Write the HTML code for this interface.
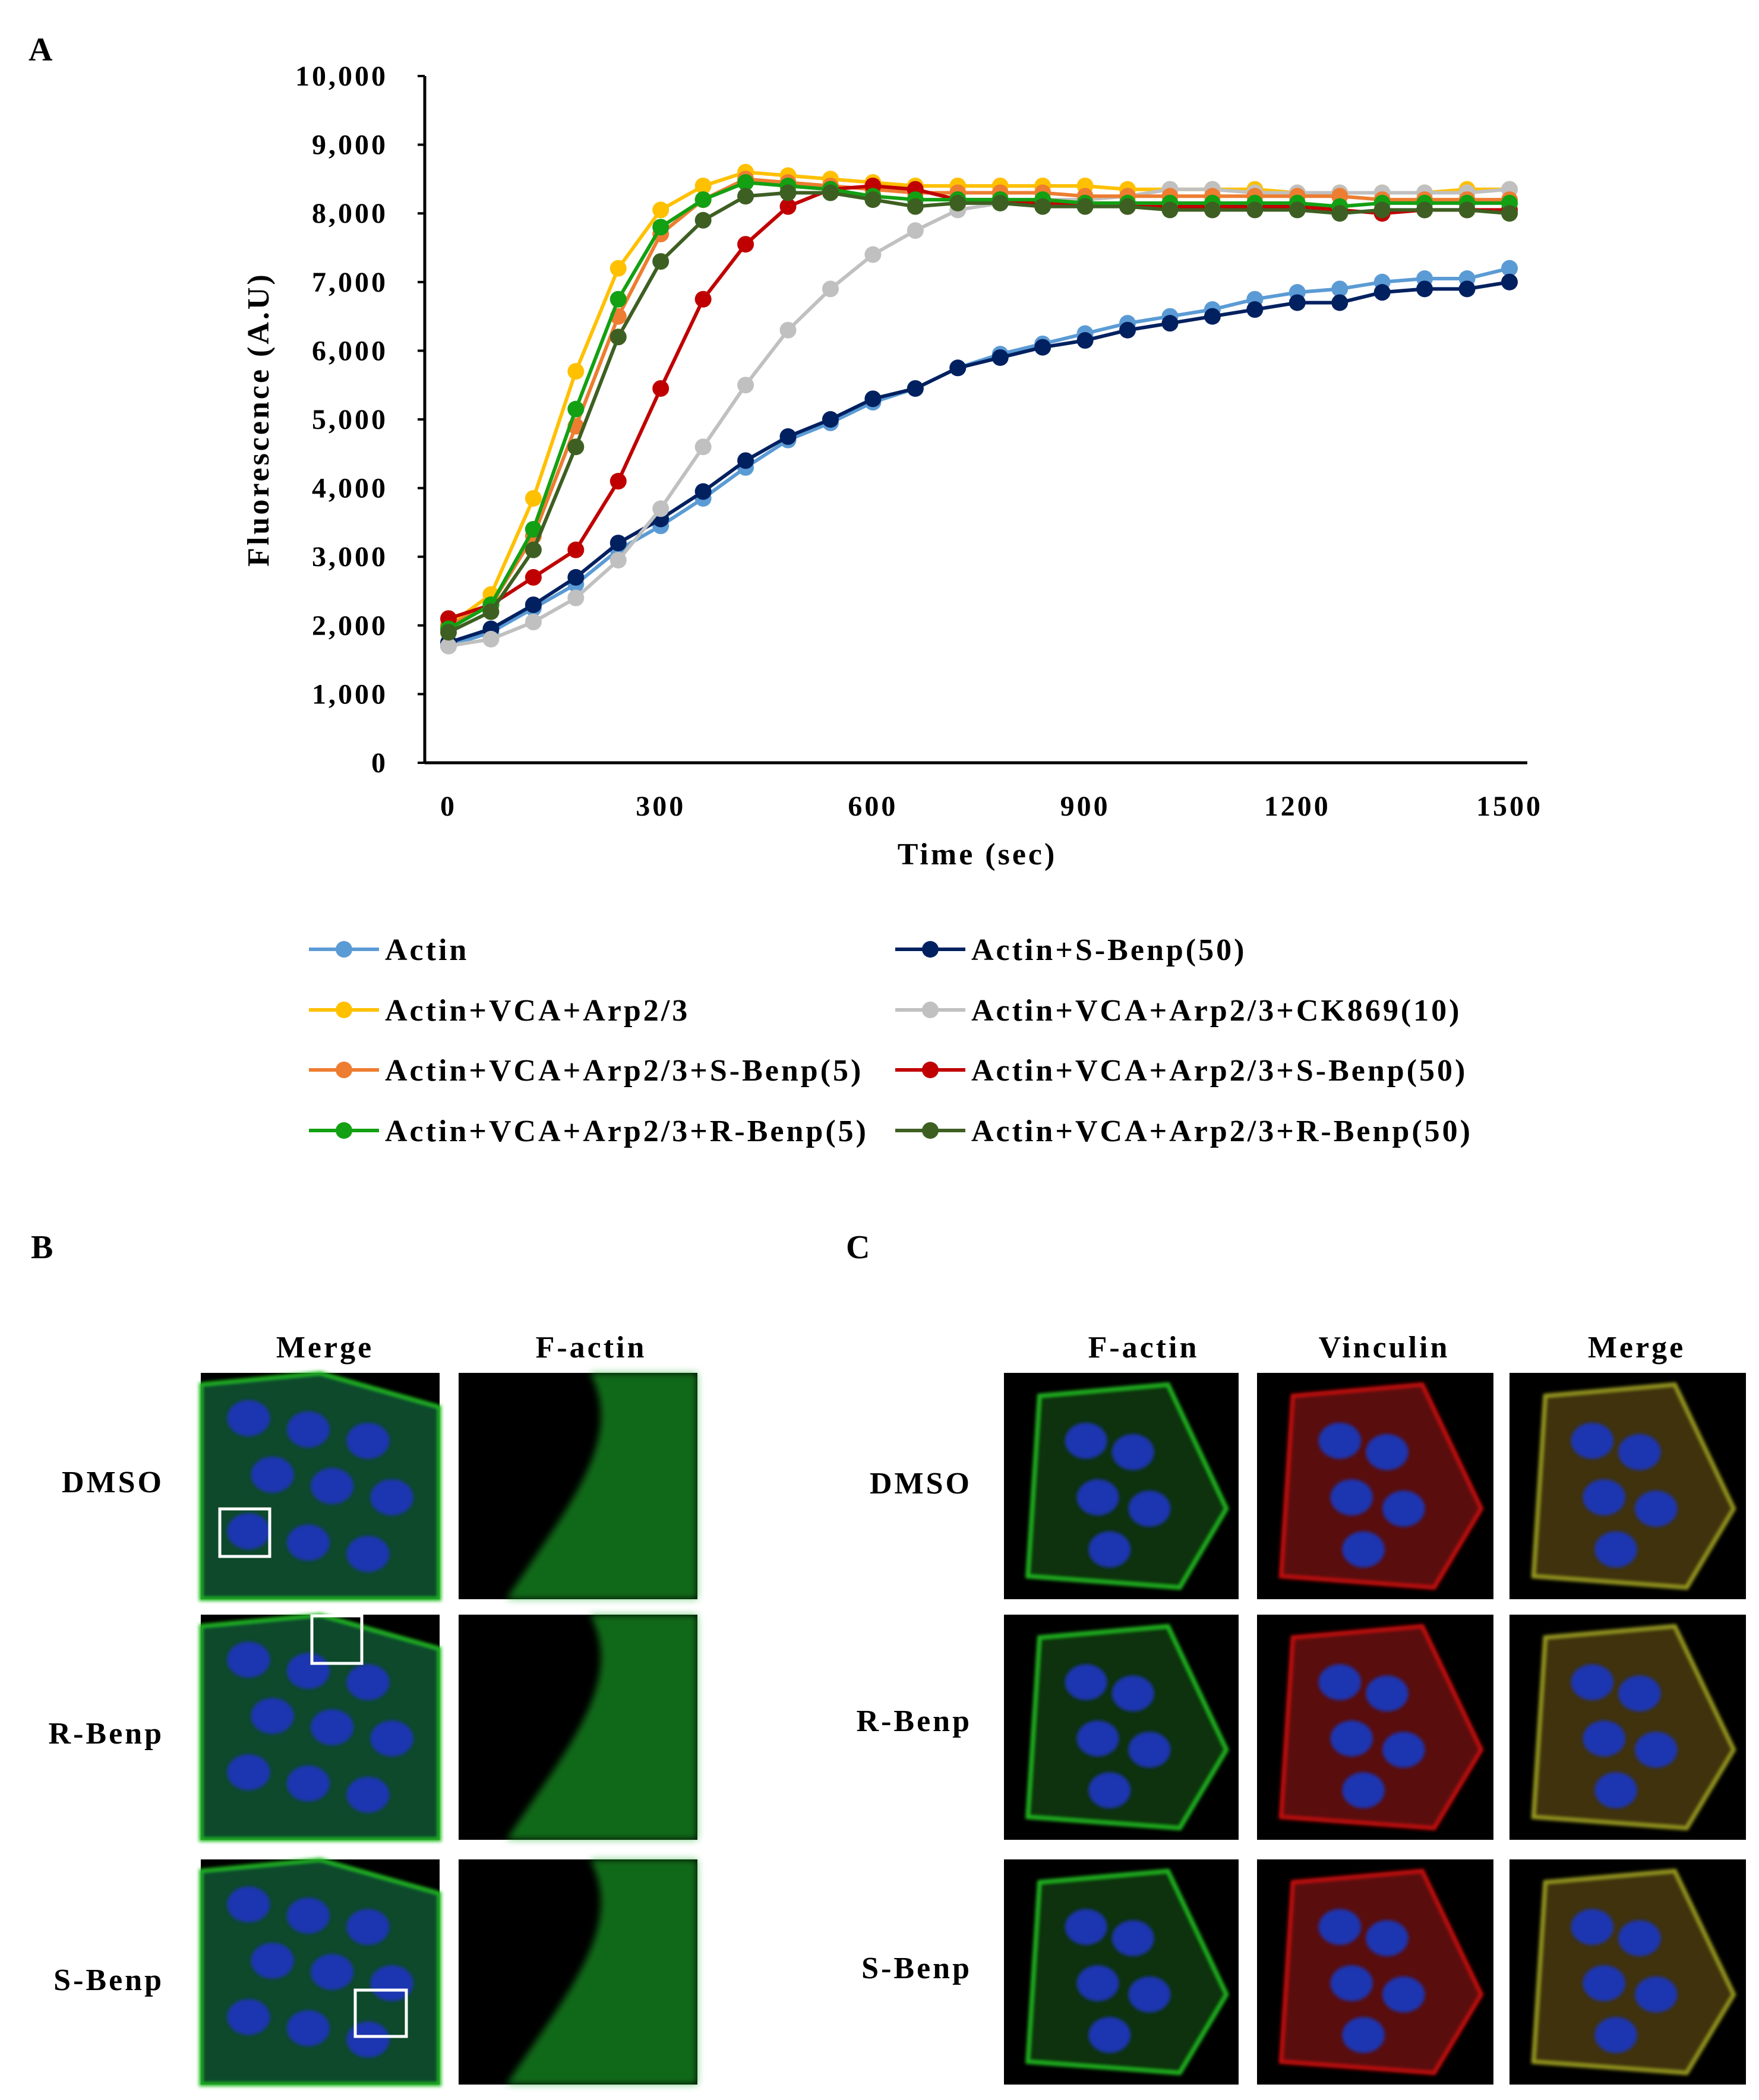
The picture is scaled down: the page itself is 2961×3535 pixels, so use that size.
<!DOCTYPE html>
<html><head><meta charset="utf-8"><style>
html,body{margin:0;padding:0;background:#fff;}
svg{display:block;font-family:"Liberation Serif",serif;font-weight:bold;}
text{letter-spacing:4px;}
</style></head><body>
<svg id="fig" width="2961" height="3535" viewBox="0 0 2961 3535" xmlns="http://www.w3.org/2000/svg">
<defs>
<filter id="bl" x="-20%" y="-20%" width="140%" height="140%"><feGaussianBlur stdDeviation="6"/></filter>
<filter id="bl2" x="-20%" y="-20%" width="140%" height="140%"><feGaussianBlur stdDeviation="3"/></filter>
</defs>
<text x="48" y="102" font-size="56">A</text>
<text x="52" y="2118" font-size="56">B</text>
<text x="1424" y="2118" font-size="56">C</text>
<g id="chart"></g>
<g id="legend"></g>
<g id="micro"></g>
</svg>
<script>
const NS="http://www.w3.org/2000/svg";
const times=[0,60,120,180,240,300,360,420,480,540,600,660,720,780,840,900,960,1020,1080,1140,1200,1260,1320,1380,1440,1500];
const seriesNames=["Actin","Actin+S-Benp(50)","Actin+VCA+Arp2/3","Actin+VCA+Arp2/3+CK869(10)","Actin+VCA+Arp2/3+S-Benp(5)","Actin+VCA+Arp2/3+S-Benp(50)","Actin+VCA+Arp2/3+R-Benp(5)","Actin+VCA+Arp2/3+R-Benp(50)"];
const actin=[1700,1900,2250,2600,3100,3450,3850,4300,4700,4950,5250,5450,5750,5950,6100,6250,6400,6500,6600,6750,6850,6900,7000,7050,7050,7200];
const sBenp50=[1750,1950,2300,2700,3200,3550,3950,4400,4750,5000,5300,5450,5750,5900,6050,6150,6300,6400,6500,6600,6700,6700,6850,6900,6900,7000];
const vca=[2000,2450,3850,5700,7200,8050,8400,8600,8550,8500,8450,8400,8400,8400,8400,8400,8350,8350,8350,8350,8300,8300,8300,8300,8350,8350];
const ck869=[1700,1800,2050,2400,2950,3700,4600,5500,6300,6900,7400,7750,8050,8150,8200,8200,8250,8350,8350,8300,8300,8300,8300,8300,8300,8350];
const vcaS5=[2000,2300,3300,4900,6500,7700,8200,8500,8450,8400,8350,8300,8300,8300,8300,8250,8250,8250,8250,8250,8250,8250,8200,8200,8200,8200];
const vcaS50=[2100,2300,2700,3100,4100,5450,6750,7550,8100,8350,8400,8350,8200,8200,8150,8150,8100,8100,8100,8100,8100,8050,8000,8050,8050,8050];
const vcaR5=[1950,2300,3400,5150,6750,7800,8200,8450,8400,8350,8250,8200,8200,8200,8200,8150,8150,8150,8150,8150,8150,8100,8150,8150,8150,8150];
const vcaR50=[1900,2200,3100,4600,6200,7300,7900,8250,8300,8300,8200,8100,8150,8150,8100,8100,8100,8050,8050,8050,8050,8000,8050,8050,8050,8000];
const yTicks=[0,1000,2000,3000,4000,5000,6000,7000,8000,9000,10000];
const xTicks=[0,300,600,900,1200,1500];
const allSeries=[actin,sBenp50,vca,ck869,vcaS5,vcaS50,vcaR5,vcaR50];
const colors=["#5b9bd5","#002060","#ffc000","#c0c0c0","#ed7d31","#c00000","#13a013","#3e5f22"];
const slugs=["actin","actin-s-benp50","vca-arp23","vca-ck869","vca-s-benp5","vca-s-benp50","vca-r-benp5","vca-r-benp50"];
const X0=755,X1=2541,Y0=1284,Y1=128;
const xs=t=>X0+(t/1500)*(X1-X0);
const ys=v=>Y0-(v/10000)*(Y0-Y1);
function mk(tag,attrs,parent){const e=document.createElementNS(NS,tag);for(const k in attrs)e.setAttribute(k,attrs[k]);parent.appendChild(e);return e;}
const chart=document.getElementById('chart');
let a=mk('line',{x1:X0-40,y1:Y0,x2:X1+30,y2:Y0,stroke:'#000','stroke-width':5},chart);


a=mk('line',{x1:X0-40,y1:Y1,x2:X0-40,y2:Y0,stroke:'#000','stroke-width':5},chart);


yTicks.forEach(v=>{
  const tk=mk('line',{x1:X0-52,y1:ys(v),x2:X0-40,y2:ys(v),stroke:'#000','stroke-width':4},chart);
  
  
  const t=mk('text',{x:X0-102,y:ys(v)+16,'font-size':48,'text-anchor':'end','letter-spacing':'6px'},chart);
  t.textContent=v.toLocaleString('en-US');
  
  
});
xTicks.forEach(v=>{
  const t=mk('text',{x:xs(v),y:1373,'font-size':48,'text-anchor':'middle','letter-spacing':'5px'},chart);
  t.textContent=v;
  
  
});
let tt=mk('text',{x:1645,y:1455,'font-size':52,'text-anchor':'middle','letter-spacing':'6px'},chart);
tt.textContent='Time (sec)';


tt=mk('text',{x:0,y:0,'font-size':52,'text-anchor':'middle','letter-spacing':'7px',transform:'translate(452,706) rotate(-90)'},chart);
tt.textContent='Fluorescence (A.U)';


allSeries.forEach((s,i)=>{
  const g=mk('g',{},chart);
  
  
  const p=mk('polyline',{points:s.map((v,j)=>xs(times[j])+','+ys(v)).join(' '),fill:'none',stroke:colors[i],'stroke-width':6},g);
  
  
  s.forEach((v,j)=>{
    const c=mk('circle',{cx:xs(times[j]),cy:ys(v),r:14,fill:colors[i]},g);
    
    
  });
});
const leg=document.getElementById('legend');
const legX=[520,1507],legY=[1598,1700,1801,1903];
seriesNames.forEach((n,i)=>{
  const lx=legX[i%2],ly=legY[Math.floor(i/2)];
  const g=mk('g',{},leg);
  
  
  mk('line',{x1:lx,y1:ly,x2:lx+118,y2:ly,stroke:colors[i],'stroke-width':6},g);
  mk('circle',{cx:lx+59,cy:ly,r:14,fill:colors[i]},g);
  const t=mk('text',{x:lx+128,y:ly+18,'font-size':52,'letter-spacing':'5px'},g);
  t.textContent=n;
});
const micro=document.getElementById('micro');
function txt(s,x,y,anchor,name){const t=mk('text',{x:x,y:y,'font-size':52,'text-anchor':anchor},micro);t.textContent=s;}
txt('Merge',547,2285,'middle','b-merge-header');
txt('F-actin',995,2285,'middle','b-factin-header');
txt('F-actin',1925,2285,'middle','c-factin-header');
txt('Vinculin',2330,2285,'middle','c-vinculin-header');
txt('Merge',2755,2285,'middle','c-merge-header');
const rowsB=[[2311,2692],[2718,3097],[3130,3509]];
const rowNames=['DMSO','R-Benp','S-Benp'];
const rowLabelY=[2512,2935,3350];
const rowLabelYC=[2514,2914,3330];
rowNames.forEach((r,i)=>{txt(r,276,rowLabelY[i],'end','b-row-label');txt(r,1636,rowLabelYC[i],'end','c-row-label');});
function panel(x,y,w,h,type,name){
  const g=mk('g',{},micro);
  
  
  mk('rect',{x:x,y:y,width:w,height:h,fill:'#000'},g);
  if(type==='zoom'){
    mk('path',{d:`M${x+w*0.55},${y} C${x+w*0.7},${y+h*0.3} ${x+w*0.45},${y+h*0.6} ${x+w*0.2},${y+h} L${x+w},${y+h} L${x+w},${y} Z`,fill:'#1fb02a',opacity:0.6,filter:'url(#bl)'},g);
    return;
  }
  const mem = type==='green'||type==='bmerge'?'#22c022':type==='red'?'#d01010':'#9fa020';
  const cyt = type==='green'?'#0a300a':type==='bmerge'?'#0e4a2a':type==='red'?'#5a0a0a':'#403010';
  const big = type==='bmerge';
  const d = big ? `M${x},${y+h*0.05} L${x+w*0.5},${y} L${x+w},${y+h*0.15} L${x+w},${y+h} L${x},${y+h} Z`
                : `M${x+w*0.15},${y+h*0.1} L${x+w*0.7},${y+h*0.05} L${x+w*0.95},${y+h*0.6} L${x+w*0.75},${y+h*0.95} L${x+w*0.1},${y+h*0.9} Z`;
  mk('path',{d:d,fill:cyt,stroke:mem,'stroke-width':6,filter:'url(#bl2)'},g);
  const nuc = big ? [[0.2,0.2],[0.45,0.25],[0.7,0.3],[0.3,0.45],[0.55,0.5],[0.8,0.55],[0.2,0.7],[0.45,0.75],[0.7,0.8]]
                  : [[0.35,0.3],[0.55,0.35],[0.4,0.55],[0.62,0.6],[0.45,0.78]];
  nuc.forEach(p=>{
    mk('ellipse',{cx:x+w*p[0],cy:y+h*p[1],rx:w*0.09,ry:h*0.08,fill:'#1a35b0',filter:'url(#bl2)'},g);
  });
}
rowsB.forEach((r,i)=>{
  panel(338,r[0],402,r[1]-r[0],'bmerge','b-merge-image');
  panel(772,r[0],402,r[1]-r[0],'zoom','b-factin-zoom-image');
  panel(1690,r[0],395,r[1]-r[0],'green','c-factin-image');
  panel(2116,r[0],398,r[1]-r[0],'red','c-vinculin-image');
  panel(2541,r[0],398,r[1]-r[0],'merge','c-merge-image');
});
const boxes=[[370,2540,84,80],[525,2720,84,80],[598,3350,86,78]];
boxes.forEach(b=>{const e=mk('rect',{x:b[0],y:b[1],width:b[2],height:b[3],fill:'none',stroke:'#fff','stroke-width':5},micro);});
</script>
</body></html>
